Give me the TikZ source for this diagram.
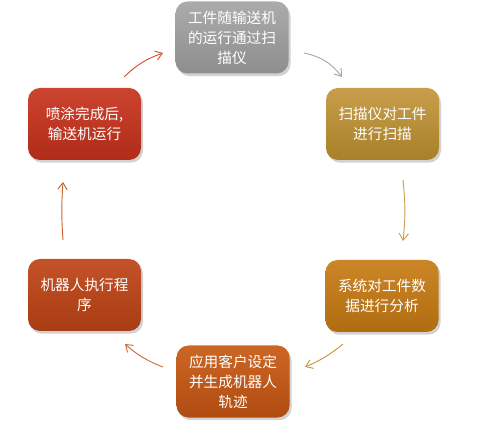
\documentclass[tikz,border=0pt]{standalone}
\usepackage{fontspec}
\newfontfamily\cjk{Noto Sans CJK SC}
\usetikzlibrary{shadows,arrows.meta}
\definecolor{grayT}{HTML}{ABABAB}\definecolor{grayB}{HTML}{8E8E8E}
\definecolor{goldT}{HTML}{C89E4C}\definecolor{goldB}{HTML}{A88028}
\definecolor{oranT}{HTML}{CC8628}\definecolor{oranB}{HTML}{B06C10}
\definecolor{rustT}{HTML}{CC6624}\definecolor{rustB}{HTML}{B04C12}
\definecolor{brickT}{HTML}{C45228}\definecolor{brickB}{HTML}{A83C12}
\definecolor{redT}{HTML}{CC4430}\definecolor{redB}{HTML}{B02C18}
\definecolor{arGray}{HTML}{A8A8A8}\definecolor{arGold}{HTML}{C8A050}
\definecolor{arOran}{HTML}{D0963A}\definecolor{arRust}{HTML}{CC7038}
\definecolor{arBrick}{HTML}{C86434}\definecolor{arRed}{HTML}{D05634}
\tikzset{
  stepbox/.style={rounded corners=9pt, minimum width=84.75pt, minimum height=54pt,
    align=center, text=white, font=\cjk\fontsize{11}{15}\selectfont,
    drop shadow={opacity=0.35, shadow xshift=1.5pt, shadow yshift=-2pt}},
  flow/.style={line width=0.7pt, -{Straight Barb[length=5pt,width=7pt]}}
}
\begin{document}
\begin{tikzpicture}[x=0.75pt,y=-0.75pt]
\useasboundingbox[fill=white] (0,0) rectangle (478,434);
\node[stepbox, top color=grayT, bottom color=grayB] (b1) at (232,37.5) {工件随输送机\\的运行通过扫\\描仪};
\node[stepbox, top color=goldT, bottom color=goldB] (b2) at (382.5,124) {扫描仪对工件\\进行扫描};
\node[stepbox, top color=oranT, bottom color=oranB] (b3) at (382,296) {系统对工件数\\据进行分析};
\node[stepbox, top color=rustT, bottom color=rustB] (b4) at (233,381.5) {应用客户设定\\并生成机器人\\轨迹};
\node[stepbox, top color=brickT, bottom color=brickB] (b5) at (84.5,295) {机器人执行程\\序};
\node[stepbox, top color=redT, bottom color=redB] (b6) at (84.5,124) {喷涂完成后,\hspace{0.9em}\\输送机运行};
\coordinate (a1s) at (304,53);  \coordinate (a1e) at (342,77);
\coordinate (a2s) at (403,180); \coordinate (a2e) at (403,241);
\coordinate (a3s) at (343,344); \coordinate (a3e) at (305,367);
\coordinate (a4s) at (163,367); \coordinate (a4e) at (125,344);
\coordinate (a5s) at (63,240);  \coordinate (a5e) at (63,182);
\coordinate (a6s) at (124,77);  \coordinate (a6e) at (163,53);
\draw[flow, arGray] (a1s) to[bend left=20] (a1e);
\draw[flow, arGold] (a2s) to[bend left=6] (a2e);
\draw[flow, arOran] (a3s) to[bend left=8] (a3e);
\draw[flow, arRust] (a4s) to[bend left=10] (a4e);
\draw[flow, arBrick] (a5s) to[bend left=4] (a5e);
\draw[flow, arRed] (a6s) to[bend left=12] (a6e);
\end{tikzpicture}
\end{document}
